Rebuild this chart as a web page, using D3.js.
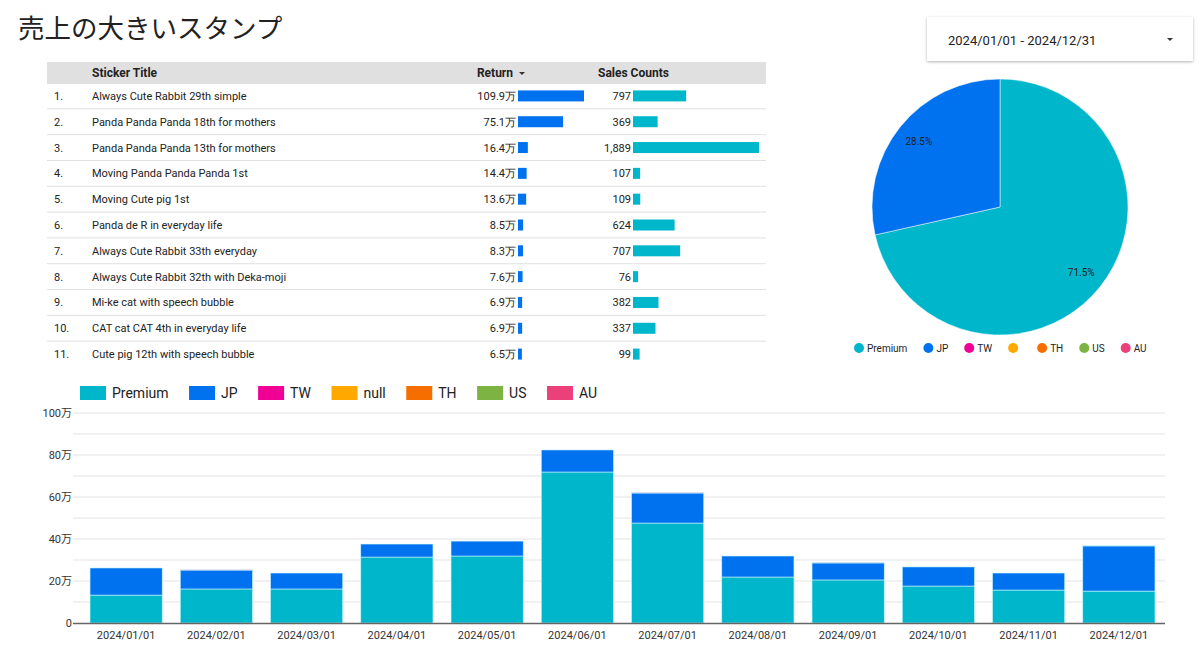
<!DOCTYPE html>
<html><head><meta charset="utf-8">
<script src="https://cdn.jsdelivr.net/npm/d3@7"></script>
<style>
body{margin:0;background:#fff;}
svg{display:block;font-family:Roboto,"Noto Sans",sans-serif;}
</style></head>
<body><svg id="c" width="1200" height="653"></svg>
<script>
// ---- data ----
const titleText = "売上の大きいスタンプ";
const dateRange = "2024/01/01 - 2024/12/31";

const stickerTitles = [
  "Always Cute Rabbit 29th simple","Panda Panda Panda 18th for mothers","Panda Panda Panda 13th for mothers",
  "Moving Panda Panda Panda 1st","Moving Cute pig 1st","Panda de R in everyday life",
  "Always Cute Rabbit 33th everyday","Always Cute Rabbit 32th with Deka-moji","Mi-ke cat with speech bubble",
  "CAT cat CAT 4th in everyday life","Cute pig 12th with speech bubble"];
const stickerReturn = [109.9,75.1,16.4,14.4,13.6,8.5,8.3,7.6,6.9,6.9,6.5]; // 万
const stickerSales = [797,369,1889,107,109,624,707,76,382,337,99];

const seriesNames = ["Premium","JP","TW","null","TH","US","AU"];
const seriesColors = ["#00b6cb","#0072f0","#f10096","#ffa800","#f66d00","#7cb342","#ec407a"];

const months = ["2024/01/01","2024/02/01","2024/03/01","2024/04/01","2024/05/01","2024/06/01",
  "2024/07/01","2024/08/01","2024/09/01","2024/10/01","2024/11/01","2024/12/01"];
const premiumVals = [13.3,16.2,16.2,31.4,31.9,71.9,47.6,21.9,20.5,17.6,15.7,15.2];
const jpVals      = [12.9,9.0,7.6,6.2,7.1,10.5,14.3,10.0,8.1,9.1,8.1,21.5];
const twVals      = [0,0.1,0,0,0,0,0.1,0,0.1,0,0,0];
const nullVals    = [0,0,0,0,0,0,0,0,0,0,0,0];
const thVals      = [0,0,0,0,0,0,0,0,0,0,0,0];
const usVals      = [0,0,0,0,0,0,0,0,0,0,0,0];
const auVals      = [0,0,0,0,0,0,0,0,0,0,0,0.3];

const pieShares = [71.5,28.5,0,0,0,0,0]; // %
const yTicks = [0,20,40,60,80,100];
const yGrid = [10,20,30,40,50,60,70,80,90,100];

// ---- drawing ----
const svg = d3.select("#c");

// title
svg.append("text").attr("x",18).attr("y",38)
  .attr("font-family","'Noto Sans CJK JP',sans-serif").attr("font-size",26.5).attr("font-weight",400).attr("fill","#222")
  .text(titleText);

// date picker
const defs = svg.append("defs");
const f = defs.append("filter").attr("id","sh").attr("x","-10%").attr("y","-20%").attr("width","120%").attr("height","150%");
f.append("feDropShadow").attr("dx",0).attr("dy",1).attr("stdDeviation",1.5).attr("flood-color","#000").attr("flood-opacity",0.3);
svg.append("rect").attr("x",927).attr("y",17).attr("width",266).attr("height",44).attr("fill","#fff").attr("filter","url(#sh)");
svg.append("text").attr("x",948).attr("y",45).attr("font-size",13).attr("fill","#222").text(dateRange);
svg.append("path").attr("d","M1167,38 l6,0 l-3,3 z").attr("fill","#333");

// ---- table ----
const tbl = svg.append("g");
tbl.append("rect").attr("x",47).attr("y",62).attr("width",719).attr("height",22).attr("fill","#e0e0e0");
tbl.append("text").attr("x",92).attr("y",77).attr("font-size",12).attr("font-weight",700).attr("fill","#222").text("Sticker Title");
tbl.append("text").attr("x",513).attr("y",77).attr("text-anchor","end").attr("font-size",12).attr("font-weight",700).attr("fill","#222").text("Return");
tbl.append("path").attr("d","M519,72 l6,0 l-3,3 z").attr("fill","#333");
tbl.append("text").attr("x",598).attr("y",77).attr("font-size",12).attr("font-weight",700).attr("fill","#222").text("Sales Counts");

const rowY = d3.scaleBand().domain(d3.range(stickerTitles.length)).range([83,367]);
const retX = d3.scaleLinear().domain([0,d3.max(stickerReturn)]).range([0,66]);
const salX = d3.scaleLinear().domain([0,d3.max(stickerSales)]).range([0,126]);
const fmtRet = v => v.toFixed(1)+"万";
const fmtSal = d3.format(",");

const rows = tbl.selectAll("g.row").data(stickerTitles).join("g").attr("class","row")
  .attr("transform",(d,i)=>`translate(0,${rowY(i)+rowY.bandwidth()/2})`);
rows.filter((d,i)=>i<stickerTitles.length-1).append("line")
  .attr("x1",47).attr("x2",766).attr("y1",rowY.bandwidth()/2).attr("y2",rowY.bandwidth()/2)
  .attr("stroke","#e0e0e0").attr("stroke-width",1);
rows.append("text").attr("x",54).attr("y",4).attr("font-size",11).attr("fill","#222").text((d,i)=>(i+1)+".");
rows.append("text").attr("x",92).attr("y",4).attr("font-size",11).attr("fill","#222").text(d=>d);
rows.append("text").attr("x",516).attr("y",4).attr("text-anchor","end").attr("font-size",11).attr("fill","#222")
  .text((d,i)=>fmtRet(stickerReturn[i]));
rows.append("rect").attr("x",518).attr("y",-5.5).attr("height",11)
  .attr("width",(d,i)=>Math.max(3,retX(stickerReturn[i]))).attr("fill",seriesColors[1]);
rows.append("text").attr("x",631).attr("y",4).attr("text-anchor","end").attr("font-size",11).attr("fill","#222")
  .text((d,i)=>fmtSal(stickerSales[i]));
rows.append("rect").attr("x",633).attr("y",-5.5).attr("height",11)
  .attr("width",(d,i)=>Math.max(3,salX(stickerSales[i]))).attr("fill",seriesColors[0]);

// ---- pie ----
const pieG = svg.append("g").attr("transform","translate(1000,207)");
const R = 128;
const pieData = d3.pie().sort(null).value(d=>d)(pieShares);
const arc = d3.arc().innerRadius(0).outerRadius(R);
const labelArc = d3.arc().innerRadius(104).outerRadius(104);
pieG.selectAll("path").data(pieData.filter(d=>d.value>0)).join("path")
  .attr("d",arc).attr("fill",d=>seriesColors[d.index]).attr("stroke","#fff").attr("stroke-width",0.5);
pieG.selectAll("text").data(pieData.filter(d=>d.value>0)).join("text")
  .attr("transform",d=>`translate(${labelArc.centroid(d)})`).attr("text-anchor","middle").attr("dy","0.35em")
  .attr("font-size",10).attr("fill","#222").text(d=>d.value.toFixed(1)+"%");

// pie legend
const pl = svg.append("g");
let px = 859;
seriesNames.forEach((n,i)=>{
  pl.append("circle").attr("cx",px).attr("cy",348).attr("r",5).attr("fill",seriesColors[i]);
  const t = pl.append("text").attr("x",px+8).attr("y",352).attr("font-size",10).attr("fill","#222").text(n==="null"?"":n);
  const w = n==="null"?0:t.node().getComputedTextLength();
  px = px + 8 + w + 21;
});

// ---- bar chart ----
const stackRows = months.map((m,i)=>({month:m,Premium:premiumVals[i],JP:jpVals[i],TW:twVals[i],"null":nullVals[i],TH:thVals[i],US:usVals[i],AU:auVals[i]}));
const x = d3.scaleBand().domain(months).range([81,1164]).paddingInner(0.2).paddingOuter(0.1);
const y = d3.scaleLinear().domain([0,100]).range([623,413]);

const grid = svg.append("g");
grid.selectAll("line").data(yGrid).join("line")
  .attr("x1",73).attr("x2",1165).attr("y1",d=>y(d)).attr("y2",d=>y(d))
  .attr("stroke","#e3e3e3").attr("stroke-width",1);

const yAxis = svg.append("g").attr("transform","translate(73,0)")
  .call(d3.axisLeft(y).tickValues(yTicks).tickSize(0).tickPadding(1).tickFormat(v=>v===0?"0":v+"万"));
yAxis.select(".domain").remove();
yAxis.selectAll("text").attr("font-size",11).attr("fill","#333").attr("font-family","Roboto,'Noto Sans CJK JP',sans-serif");

const stack = d3.stack().keys(seriesNames)(stackRows);
svg.append("g").selectAll("g").data(stack).join("g").attr("fill",(d,i)=>seriesColors[i])
  .selectAll("rect").data(d=>d.filter(s=>s[1]-s[0]>0)).join("rect")
  .attr("x",d=>x(d.data.month)).attr("width",x.bandwidth())
  .attr("y",d=>y(d[1])).attr("height",d=>y(d[0])-y(d[1]))
  .attr("stroke","#c8f4fa").attr("stroke-width",0.6);

const xAxis = svg.append("g").attr("transform","translate(0,623)")
  .call(d3.axisBottom(x).tickSize(0).tickPadding(8));
xAxis.select(".domain").attr("d","M73,0.5H1165").attr("stroke","#666").attr("stroke-width",1.5);
xAxis.selectAll("text").attr("font-size",11).attr("fill","#333").attr("font-family","Roboto,sans-serif");

// bar legend
const bl = svg.append("g");
let bx = 80;
seriesNames.forEach((n,i)=>{
  bl.append("rect").attr("x",bx).attr("y",386).attr("width",26).attr("height",14).attr("fill",seriesColors[i]);
  const t = bl.append("text").attr("x",bx+32).attr("y",398).attr("font-size",14).attr("fill","#222").text(n);
  bx = bx + 32 + t.node().getComputedTextLength() + 20.5;
});
</script></body></html>
